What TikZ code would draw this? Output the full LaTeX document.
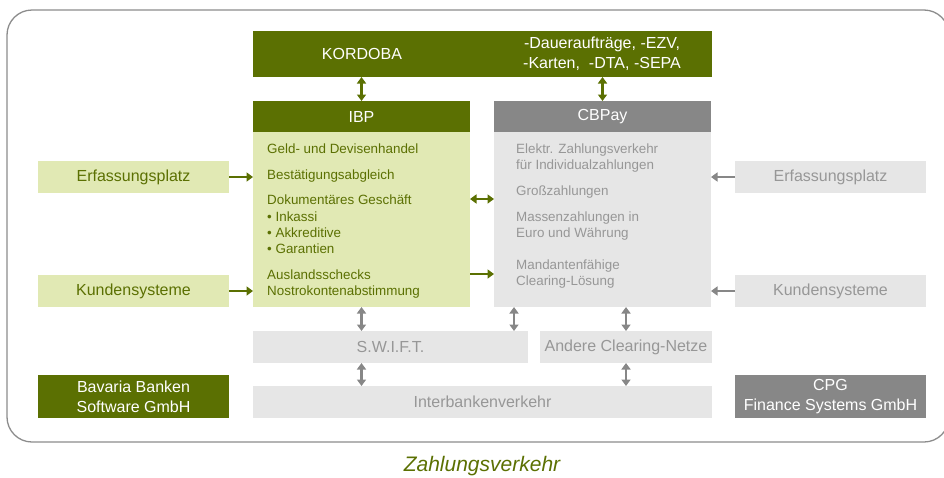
\documentclass[tikz,border=0pt]{standalone}
\usepackage{fontspec}
\setmainfont{Liberation Sans}
\usetikzlibrary{arrows.meta}
\definecolor{olive}{HTML}{5B7002}
\definecolor{paleolive}{HTML}{E1E9B4}
\definecolor{midgrey}{HTML}{878787}
\definecolor{palegrey}{HTML}{E6E6E6}
\definecolor{textgrey}{HTML}{979797}
\definecolor{framegrey}{HTML}{8C8C8C}
\newcommand{\bigfont}{\fontsize{16}{20}\selectfont}
\newcommand{\smallfont}{\fontsize{13.4}{16}\selectfont}
\tikzset{
  panel/.style={inner sep=0,outer sep=0,align=center,font=\bigfont},
  olivebox/.style={panel,fill=olive,text=white},
  palebox/.style={panel,fill=paleolive,text=olive},
  greybox/.style={panel,fill=midgrey,text=white},
  lightbox/.style={panel,fill=palegrey,text=textgrey},
  itemlist/.style={anchor=base west,inner sep=0,align=left,font=\smallfont},
  greenlink/.style={draw=olive,line width=2.2pt},
  greylink/.style={draw=midgrey,line width=2.2pt}
}

\begin{document}
\begin{tikzpicture}[x=1pt,y=-1pt,>={Triangle[width=9pt,length=6.5pt]}]
\useasboundingbox (0,0) rectangle (944,477);
\draw[framegrey,line width=1.3pt,rounded corners=25pt] (7,10) rectangle (949,442);

\node[olivebox,minimum width=459pt,minimum height=46pt] (kordoba) at (482.5,54) {};
\node[panel,text=white] (kordobaname) at (362,54) {KORDOBA};
\node[panel,text=white] (kordobalist) at (602,54) {-Daueraufträge, -EZV,\\-Karten,\ \ -DTA, -SEPA};

\node[olivebox,minimum width=217pt,minimum height=31pt] (ibphead) at (361.5,116.5) {IBP};
\node[palebox,minimum width=217pt,minimum height=175pt] (ibpbody) at (361.5,219.5) {};
\node[greybox,minimum width=217pt,minimum height=31pt] (cbhead) at (602.5,116.5) {CBPay};
\node[lightbox,minimum width=217pt,minimum height=175pt] (cbbody) at (602.5,219.5) {};

\node[itemlist,text=olive] (ibpitems) at (267,295.5) {Geld- und Devisenhandel\\[10pt]
Bestätigungsabgleich\\[9pt]
Dokumentäres Geschäft\\[1pt]
• Inkassi\\
• Akkreditive\\
• Garantien\\[10pt]
Auslandsschecks\\
Nostrokontenabstimmung};
\node[itemlist,text=textgrey] (cbitems) at (516,285.5) {Elektr. Zahlungsverkehr\\
für Individualzahlungen\\[10pt]
Großzahlungen\\[10pt]
Massenzahlungen in\\
Euro und Währung\\[16pt]
Mandantenfähige\\
Clearing-Lösung};

\node[palebox,minimum width=191pt,minimum height=32pt] (erfleft) at (133.5,177) {Erfassungsplatz};
\node[palebox,minimum width=191pt,minimum height=32pt] (kundleft) at (133.5,291) {Kundensysteme};
\node[lightbox,minimum width=191pt,minimum height=32pt] (erfright) at (830.5,177) {Erfassungsplatz};
\node[lightbox,minimum width=191pt,minimum height=32pt] (kundright) at (830.5,291) {Kundensysteme};

\node[lightbox,minimum width=275pt,minimum height=32pt] (swift) at (390.5,347) {S.W.I.F.T.};
\node[lightbox,minimum width=172pt,minimum height=32pt] (andere) at (626,347) {Andere Clearing-Netze};
\node[lightbox,minimum width=459pt,minimum height=32pt] (interbank) at (482.5,402) {Interbankenverkehr};

\node[olivebox,minimum width=191pt,minimum height=43pt] (bavaria) at (133.5,396.5) {Bavaria Banken\\Software GmbH};
\node[greybox,minimum width=191pt,minimum height=43pt] (cpg) at (830.5,396.5) {CPG\\Finance Systems GmbH};

\node[panel,text=olive,font=\fontsize{21}{25}\selectfont\itshape] (caption) at (482,466) {Zahlungsverkehr};

\coordinate (dokrow) at (482,199);
\coordinate (auslrow) at (482,274);
\coordinate (swiftlink) at (514,320);

\draw[greenlink,<->] (kordoba.south -| ibphead.north) -- (ibphead.north);
\draw[greenlink,<->] (kordoba.south -| cbhead.north) -- (cbhead.north);
\draw[greenlink,->] (erfleft.east) -- (erfleft.east -| ibpbody.west);
\draw[greenlink,->] (kundleft.east) -- (kundleft.east -| ibpbody.west);
\draw[greenlink,<->] (dokrow -| ibpbody.east) -- (dokrow -| cbbody.west);
\draw[greenlink,->] (auslrow -| ibpbody.east) -- (auslrow -| cbbody.west);
\draw[greylink,->] (erfright.west) -- (erfright.west -| cbbody.east);
\draw[greylink,->] (kundright.west) -- (kundright.west -| cbbody.east);
\draw[greylink,<->] (ibpbody.south) -- (swift.north -| ibpbody.south);
\draw[greylink,<->] (swiftlink |- cbbody.south) -- (swiftlink |- swift.north);
\draw[greylink,<->] (cbbody.south -| andere.north) -- (andere.north);
\draw[greylink,<->] (swift.south -| ibpbody.south) -- (interbank.north -| ibpbody.south);
\draw[greylink,<->] (andere.south) -- (interbank.north -| andere.south);
\end{tikzpicture}
\end{document}
